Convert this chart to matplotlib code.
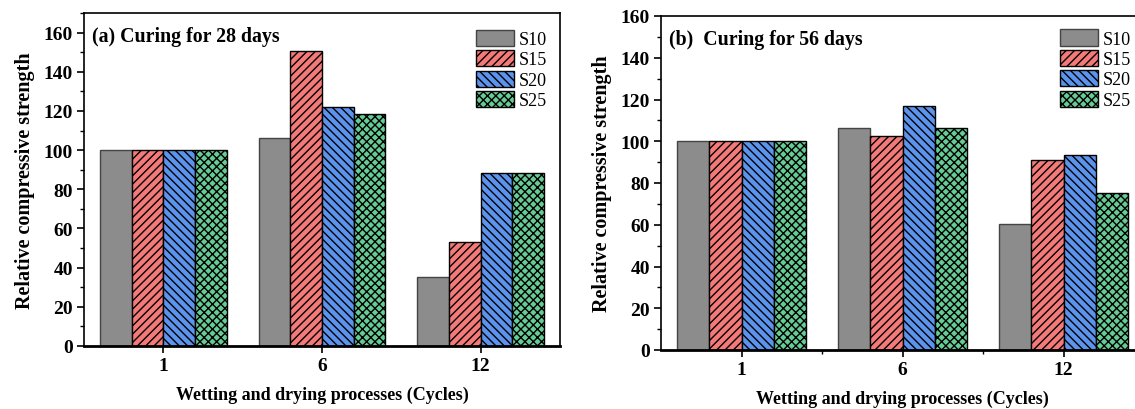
import matplotlib.pyplot as plt
import numpy as np
from matplotlib.ticker import MultipleLocator

# data
cycles = ['1', '6', '12']
series = ['S10', 'S15', 'S20', 'S25']
s10_28 = [100, 106.3, 35.4]
s15_28 = [100, 150.5, 53.3]
s20_28 = [100, 122.0, 88.3]
s25_28 = [100, 118.2, 88.5]
s10_56 = [100, 106.3, 60.5]
s15_56 = [100, 102.4, 90.8]
s20_56 = [100, 116.7, 93.6]
s25_56 = [100, 106.3, 75.4]

colors = ['#8c8c8c', '#f47a7a', '#5c93ec', '#66cc96']
hatches = ['', '////', '\\\\\\\\', 'xxxx']
edges = ['#444444', 'black', 'black', 'black']

plt.rcParams['font.family'] = ['Liberation Serif', 'DejaVu Serif']
plt.rcParams['hatch.linewidth'] = 1.0

fig = plt.figure(figsize=(11.35, 4.10), dpi=100)
W, H = 1135, 410
ax1 = fig.add_axes([84 / W, 1 - 347 / H, 476 / W, 333 / H])
ax2 = fig.add_axes([661 / W, 1 - 351 / H, 483 / W, 334 / H])


def draw(ax, data, title, ymax, minor_x, xlab_y):
    x = np.arange(len(cycles))
    w = 0.2
    for i, vals in enumerate(data):
        ax.bar(x + (i - 1.5) * w, vals, w, color=colors[i], hatch=hatches[i],
               edgecolor=edges[i], linewidth=1.0, label=series[i])
    ax.set_xlim(-0.5, 2.5)
    ax.set_ylim(0, ymax)
    ax.set_xticks(x)
    ax.set_xticklabels(cycles)
    if minor_x:
        ax.set_xticks([0.5, 1.5], minor=True)
        ax.tick_params(axis='x', which='minor', length=3, width=1)
    ax.yaxis.set_major_locator(MultipleLocator(20))
    ax.yaxis.set_minor_locator(MultipleLocator(10))
    ax.tick_params(axis='both', which='major', length=5, width=1.2,
                   labelsize=14, direction='out', pad=3)
    ax.tick_params(axis='y', which='minor', length=3, width=1)
    for lab in ax.get_xticklabels() + ax.get_yticklabels():
        lab.set_fontweight('bold')
    for sp in ax.spines.values():
        sp.set_linewidth(1.2)
    ax.spines['bottom'].set_linewidth(2)
    ax.set_ylabel('Relative compressive strength', fontsize=14.5,
                  fontweight='bold', labelpad=6)
    ax.set_xlabel('Wetting and drying processes (Cycles)', fontsize=13,
                  fontweight='bold')
    ax.xaxis.set_label_coords(0.5, xlab_y)
    ax.text(0.017, 0.93, title, transform=ax.transAxes, fontsize=14.3,
            fontweight='bold', va='center', ha='left')


draw(ax1, [s10_28, s15_28, s20_28, s25_28], '(a) Curing for 28 days', 170, False, -0.12)
draw(ax2, [s10_56, s15_56, s20_56, s25_56], '(b)  Curing for 56 days', 160, True, -0.118)

leg_kw = dict(loc='upper left', frameon=False, fontsize=13,
              handlelength=2.1, handleheight=1.0, labelspacing=0.12,
              handletextpad=0.25, borderaxespad=0, borderpad=0)
ax1.legend(bbox_to_anchor=(392 / 476, 0.95), **leg_kw)
ax2.legend(bbox_to_anchor=(399 / 483, 0.96), **leg_kw)

fig.savefig('out.png', dpi=100)
